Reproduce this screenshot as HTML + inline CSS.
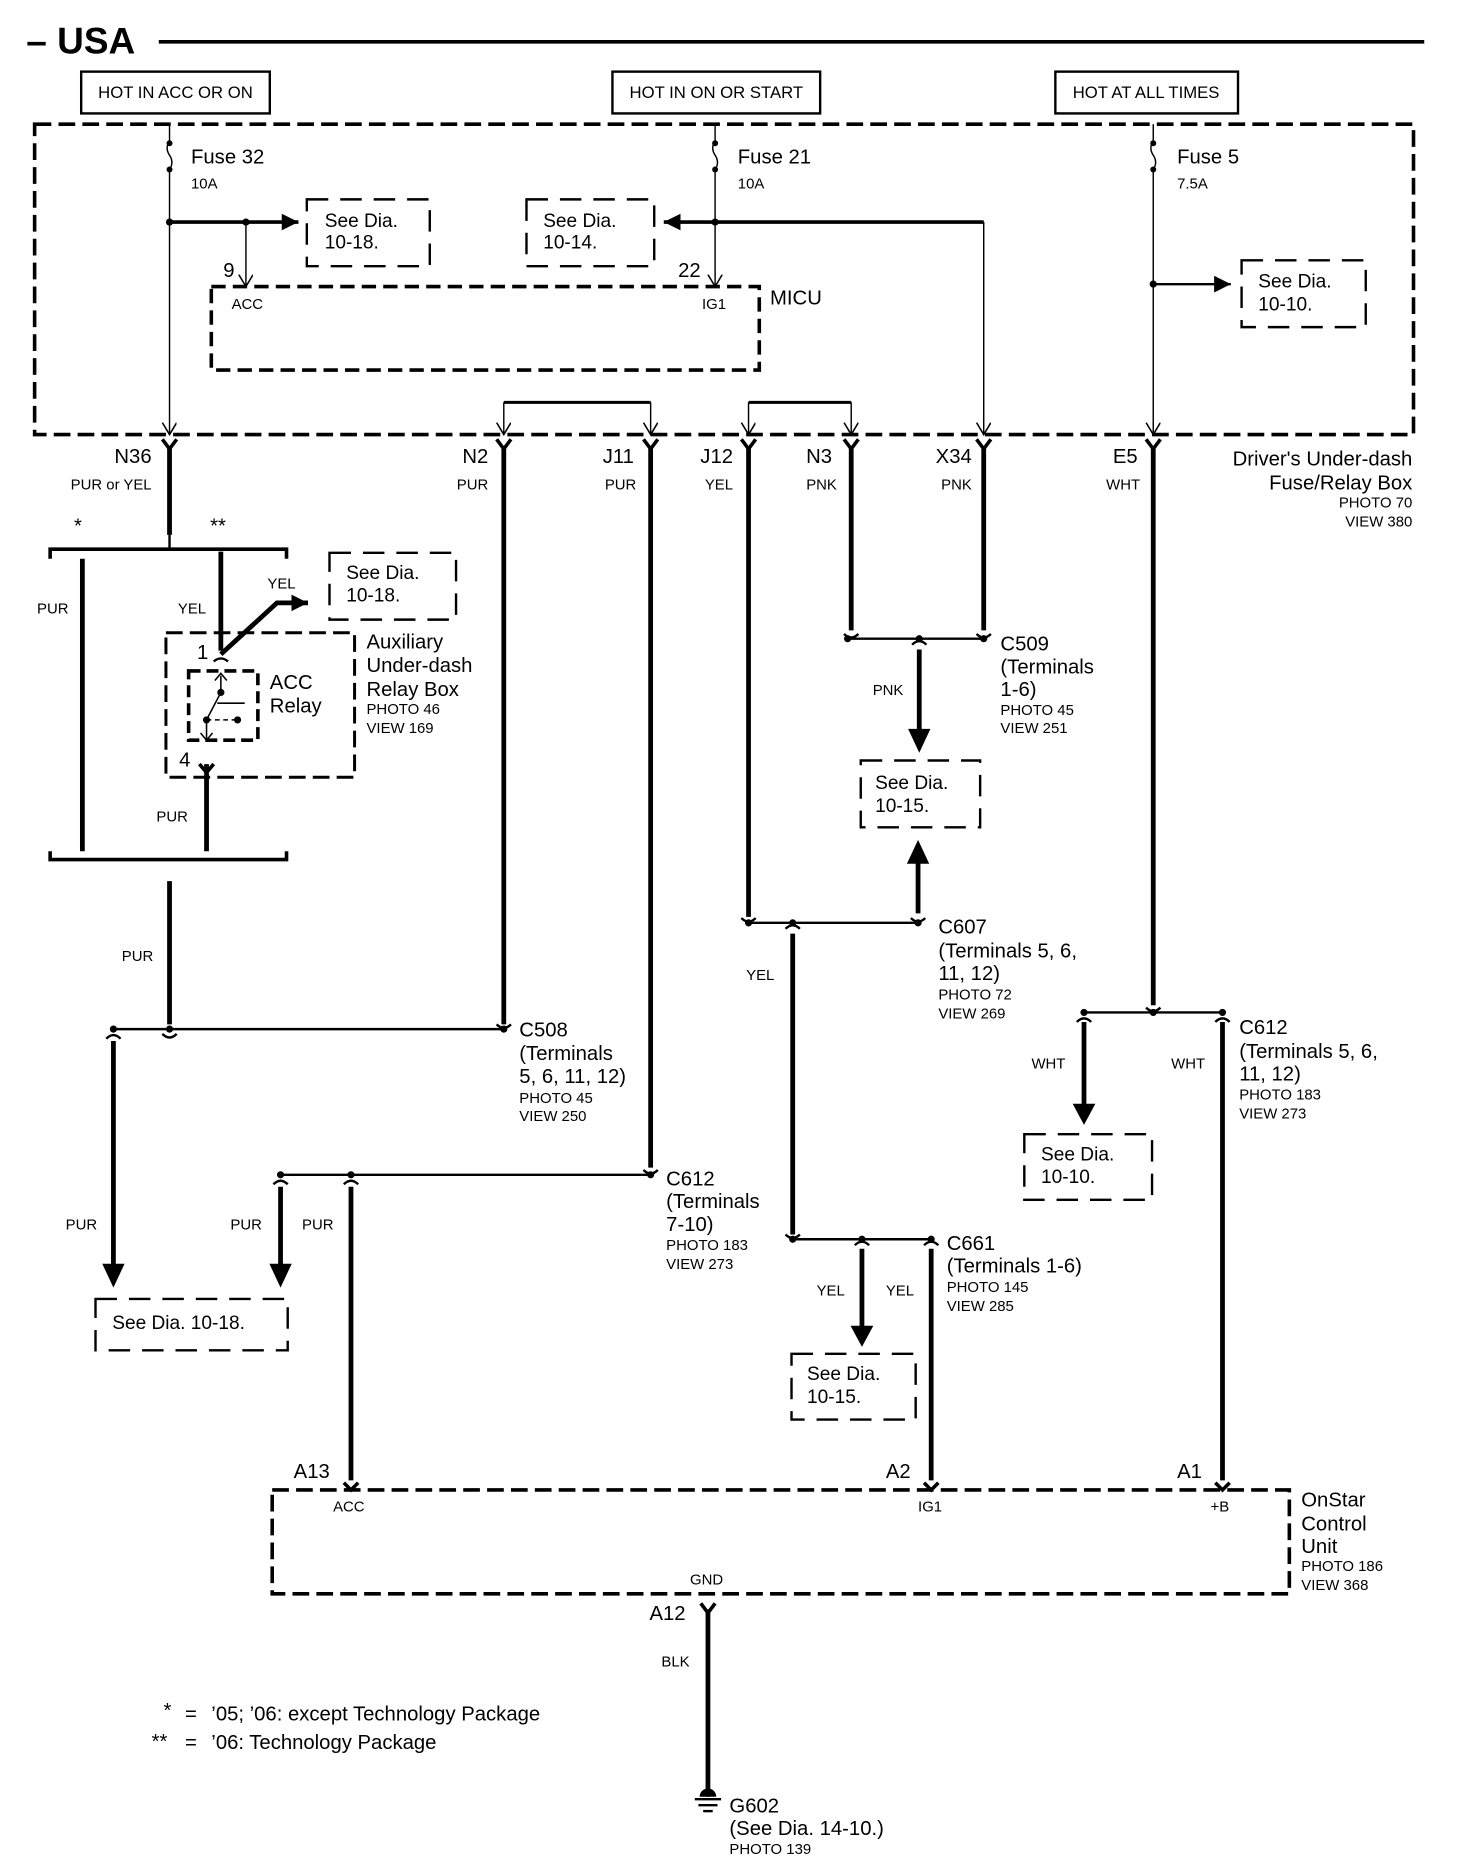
<!DOCTYPE html>
<html><head><meta charset="utf-8"><style>
html,body{margin:0;padding:0;background:#fff}
svg{display:block}
text{font-family:"Liberation Sans",sans-serif;fill:#000}
.L{font-size:17px}.S{font-size:12.5px}.M{font-size:16px}
</style></head><body>
<svg width="1472" height="1872" viewBox="0 0 1233 1568" preserveAspectRatio="none" xmlns="http://www.w3.org/2000/svg">
<defs>
<marker id="ta" markerUnits="userSpaceOnUse" markerWidth="14" markerHeight="14" refX="10" refY="6" orient="auto"><path d="M0,0 L10,6 L0,12" fill="none" stroke="#000" stroke-width="1.3"/></marker>
<marker id="fa" markerUnits="userSpaceOnUse" markerWidth="18" markerHeight="16" refX="14" refY="7" orient="auto"><path d="M0,0 L14,7 L0,14 Z" fill="#000"/></marker>
</defs>
<g fill="none" stroke="#000">
<line x1="133" y1="35" x2="1193" y2="35" stroke-width="3"/>
<rect x="68" y="60" width="158" height="35" stroke-width="2"/>
<rect x="513" y="60" width="174" height="35" stroke-width="2"/>
<rect x="884" y="60" width="153" height="35" stroke-width="2"/>
<rect x="29" y="104" width="1155" height="260" stroke-width="3" stroke-dasharray="14,6"/>
<g stroke-width="1.2">
<line x1="142" y1="104" x2="142" y2="118"/><path d="M142,118 q-4,6 0,12 q4,6 0,12"/><line x1="142" y1="142" x2="142" y2="364" marker-end="url(#ta)"/>
<line x1="599" y1="104" x2="599" y2="118"/><path d="M599,118 q-4,6 0,12 q4,6 0,12"/><line x1="599" y1="142" x2="599" y2="240" marker-end="url(#ta)"/>
<line x1="966" y1="104" x2="966" y2="118"/><path d="M966,118 q-4,6 0,12 q4,6 0,12"/><line x1="966" y1="142" x2="966" y2="364" marker-end="url(#ta)"/>
<line x1="206" y1="186" x2="206" y2="240" marker-end="url(#ta)"/>
<line x1="824" y1="186" x2="824" y2="364" marker-end="url(#ta)"/>
<line x1="422" y1="337" x2="422" y2="364" marker-end="url(#ta)"/>
<line x1="545" y1="337" x2="545" y2="364" marker-end="url(#ta)"/>
<line x1="627" y1="337" x2="627" y2="364" marker-end="url(#ta)"/>
<line x1="713" y1="337" x2="713" y2="364" marker-end="url(#ta)"/>
</g>
<line x1="422" y1="337" x2="545" y2="337" stroke-width="2.5"/>
<line x1="627" y1="337" x2="713" y2="337" stroke-width="2.5"/>
<line x1="142" y1="186" x2="250" y2="186" stroke-width="3" marker-end="url(#fa)"/>
<line x1="824" y1="186" x2="556" y2="186" stroke-width="3" marker-end="url(#fa)"/>
<line x1="966" y1="238" x2="1031" y2="238" stroke-width="2" marker-end="url(#fa)"/>
<g stroke-width="2" stroke-dasharray="18,10">
<rect x="257" y="167" width="103" height="56"/>
<rect x="441" y="167" width="107" height="56"/>
<rect x="1040" y="218" width="104" height="56"/>
<rect x="276" y="463" width="106" height="56"/>
<rect x="721" y="637" width="100" height="56"/>
<rect x="80" y="1088" width="161" height="43"/>
<rect x="858" y="950" width="107" height="55"/>
<rect x="663" y="1134" width="104" height="55"/>
</g>
<rect x="177" y="240" width="459" height="70" stroke-width="3" stroke-dasharray="12,6"/>
<g stroke-width="3">
<path d="M136,368 L142,376 L148,368"/><path d="M416,368 L422,376 L428,368"/><path d="M539,368 L545,376 L551,368"/><path d="M621,368 L627,376 L633,368"/><path d="M707,368 L713,376 L719,368"/><path d="M818,368 L824,376 L830,368"/><path d="M960,368 L966,376 L972,368"/>
</g>
<g stroke-width="4">
<line x1="142" y1="374" x2="142" y2="448"/>
<line x1="422" y1="374" x2="422" y2="858"/>
<line x1="545" y1="374" x2="545" y2="978"/>
<line x1="627" y1="374" x2="627" y2="768"/>
<line x1="713" y1="374" x2="713" y2="528"/>
<line x1="824" y1="374" x2="824" y2="528"/>
<line x1="966" y1="374" x2="966" y2="842"/>
<line x1="69" y1="468" x2="69" y2="713"/>
<line x1="185" y1="462" x2="185" y2="545"/>
<line x1="173" y1="640" x2="173" y2="713"/>
<line x1="142" y1="738" x2="142" y2="858"/>
<line x1="95" y1="872" x2="95" y2="1062"/>
<line x1="235" y1="994" x2="235" y2="1060"/>
<line x1="294" y1="994" x2="294" y2="1240"/>
<line x1="770" y1="544" x2="770" y2="612"/>
<line x1="769" y1="765" x2="769" y2="722"/>
<line x1="664" y1="782" x2="664" y2="1034"/>
<line x1="722" y1="1046" x2="722" y2="1112"/>
<line x1="780" y1="1046" x2="780" y2="1240"/>
<line x1="908" y1="856" x2="908" y2="926"/>
<line x1="1024" y1="856" x2="1024" y2="1240"/>
<line x1="593" y1="1348" x2="593" y2="1505"/>
</g>
<g stroke-width="3" fill="#000">
<path d="M88,1060 L95,1075 L102,1060 Z"/><path d="M228,1060 L235,1075 L242,1060 Z"/>
<path d="M763,612 L770,627 L777,612 Z"/><path d="M762,722 L769,707 L776,722 Z"/>
<path d="M715,1112 L722,1125 L729,1112 Z"/><path d="M901,926 L908,939 L915,926 Z"/>
</g>
<path d="M185,548 L232,505 L258,505" stroke-width="4" marker-end="url(#fa)"/>
<path d="M42,468 L42,460 L240,460 L240,468" stroke-width="3"/>
<path d="M42,713 L42,720 L240,720 L240,713" stroke-width="3"/>
<line x1="142" y1="448" x2="142" y2="460" stroke-width="2"/>
<rect x="139" y="530" width="158" height="121" stroke-width="2.5" stroke-dasharray="14,6"/>
<rect x="158" y="562" width="58" height="58" stroke-width="3" stroke-dasharray="10,5"/>
<path d="M179,554 q6,-5 12,0" stroke-width="2"/>
<path d="M167,640 L173,647 L179,640" stroke-width="3"/>
<g stroke-width="1.3"><line x1="185" y1="566" x2="185" y2="580"/><path d="M180,570 L185,564 L190,570"/><line x1="185" y1="580" x2="173" y2="603"/><line x1="173" y1="603" x2="173" y2="620"/><path d="M168,614 L173,620 L178,614"/><line x1="182" y1="589" x2="205" y2="589"/><line x1="173" y1="603" x2="199" y2="603" stroke-dasharray="4,3"/></g>
<g fill="#000" stroke="none"><circle cx="185" cy="580" r="3"/><circle cx="173" cy="603" r="3"/><circle cx="199" cy="603" r="3"/></g>
<g stroke-width="2">
<line x1="95" y1="862" x2="422" y2="862"/>
<line x1="235" y1="984" x2="545" y2="984"/>
<line x1="710" y1="535" x2="824" y2="535"/>
<line x1="627" y1="773" x2="769" y2="773"/>
<line x1="664" y1="1038" x2="780" y2="1038"/>
<line x1="908" y1="848" x2="1024" y2="848"/>
</g>
<g stroke-width="2">
<path d="M89,870 q6,-6 12,0"/><path d="M136,866 q6,6 12,0"/><path d="M416,858 q6,6 12,0"/>
<path d="M229,992 q6,-6 12,0"/><path d="M288,992 q6,-6 12,0"/><path d="M539,980 q6,6 12,0"/>
<path d="M707,531 q6,6 12,0"/><path d="M818,531 q6,6 12,0"/><path d="M764,540 q6,-6 12,0"/>
<path d="M621,769 q6,6 12,0"/><path d="M658,778 q6,-6 12,0"/><path d="M763,769 q6,6 12,0"/>
<path d="M658,1034 q6,6 12,0"/><path d="M716,1043 q6,-6 12,0"/><path d="M774,1043 q6,-6 12,0"/>
<path d="M902,856 q6,-6 12,0"/><path d="M960,844 q6,6 12,0"/><path d="M1018,856 q6,-6 12,0"/>
<path d="M288,1242 L294,1248 L300,1242" stroke-width="3"/><path d="M774,1242 L780,1248 L786,1242" stroke-width="3"/><path d="M1018,1242 L1024,1248 L1030,1242" stroke-width="3"/>
<path d="M587,1343 L593,1351 L599,1343" stroke-width="3"/>
</g>
<g fill="#000" stroke="none">
<circle cx="142" cy="186" r="3"/><circle cx="206" cy="186" r="3"/><circle cx="599" cy="186" r="3"/><circle cx="966" cy="238" r="3"/>
<circle cx="95" cy="862" r="3"/><circle cx="142" cy="862" r="3"/><circle cx="422" cy="862" r="3"/>
<circle cx="235" cy="984" r="3"/><circle cx="294" cy="984" r="3"/><circle cx="545" cy="984" r="3"/>
<circle cx="710" cy="535" r="3"/><circle cx="770" cy="535" r="3"/><circle cx="824" cy="535" r="3"/>
<circle cx="627" cy="773" r="3"/><circle cx="664" cy="773" r="3"/><circle cx="769" cy="773" r="3"/>
<circle cx="664" cy="1038" r="3"/><circle cx="722" cy="1038" r="3"/><circle cx="780" cy="1038" r="3"/>
<circle cx="908" cy="848" r="3"/><circle cx="966" cy="848" r="3"/><circle cx="1024" cy="848" r="3"/>
<circle cx="142" cy="120" r="2.5"/><circle cx="142" cy="142" r="2.5"/><circle cx="599" cy="120" r="2.5"/><circle cx="599" cy="142" r="2.5"/><circle cx="966" cy="120" r="2.5"/><circle cx="966" cy="142" r="2.5"/>
</g>
<rect x="228" y="1248" width="852" height="87" stroke-width="3" stroke-dasharray="14,6"/>
<g stroke-width="2"><line x1="582" y1="1507" x2="604" y2="1507"/><line x1="585" y1="1512" x2="601" y2="1512"/><line x1="589" y1="1517" x2="597" y2="1517"/></g>
<path d="M586,1505 a7,7 0 0 1 14,0 Z" fill="#000" stroke="none"/>
</g>

<text x="22" y="45" style="font-size:31px;font-weight:bold">– USA</text>
<g class="S" text-anchor="middle">
<text x="147" y="82" style="font-size:14px">HOT IN ACC OR ON</text>
<text x="600" y="82" style="font-size:14px">HOT IN ON OR START</text>
<text x="960" y="82" style="font-size:14px">HOT AT ALL TIMES</text>
</g>
<text class="L" x="160" y="137">Fuse 32</text><text class="S" x="160" y="158">10A</text>
<text class="L" x="618" y="137">Fuse 21</text><text class="S" x="618" y="158">10A</text>
<text class="L" x="986" y="137">Fuse 5</text><text class="S" x="986" y="158">7.5A</text>
<text class="M" x="272" y="190">See Dia.</text><text class="M" x="272" y="208">10-18.</text>
<text class="M" x="455" y="190">See Dia.</text><text class="M" x="455" y="208">10-14.</text>
<text class="M" x="1054" y="241">See Dia.</text><text class="M" x="1054" y="260">10-10.</text>
<text class="L" x="187" y="232">9</text><text class="L" x="568" y="232">22</text>
<text class="S" x="194" y="259">ACC</text><text class="S" x="588" y="259">IG1</text>
<text class="L" x="645" y="255">MICU</text>
<g class="L" text-anchor="end">
<text x="127" y="388">N36</text><text x="409" y="388">N2</text><text x="531" y="388">J11</text><text x="614" y="388">J12</text><text x="697" y="388">N3</text><text x="814" y="388">X34</text><text x="953" y="388">E5</text>
<text x="1183" y="390">Driver's Under-dash</text><text x="1183" y="410">Fuse/Relay Box</text>
</g>
<g class="S" text-anchor="end">
<text x="127" y="410">PUR or YEL</text><text x="409" y="410">PUR</text><text x="533" y="410">PUR</text><text x="614" y="410">YEL</text><text x="701" y="410">PNK</text><text x="814" y="410">PNK</text><text x="955" y="410">WHT</text>
<text x="1183" y="425">PHOTO 70</text><text x="1183" y="441">VIEW 380</text>
</g>
<text class="L" x="62" y="446">*</text><text class="L" x="176" y="446">**</text>
<g class="S">
<text x="31" y="514">PUR</text><text x="149" y="514">YEL</text><text x="224" y="493">YEL</text><text x="131" y="688">PUR</text><text x="102" y="805">PUR</text>
<text x="731" y="582">PNK</text><text x="625" y="821">YEL</text><text x="55" y="1030">PUR</text><text x="193" y="1030">PUR</text><text x="253" y="1030">PUR</text>
<text x="864" y="895">WHT</text><text x="981" y="895">WHT</text><text x="684" y="1085">YEL</text><text x="742" y="1085">YEL</text>
<text x="554" y="1396">BLK</text><text x="279" y="1266">ACC</text><text x="769" y="1266">IG1</text><text x="1014" y="1266">+B</text><text x="578" y="1327">GND</text>
</g>
<text class="M" x="290" y="485">See Dia.</text><text class="M" x="290" y="504">10-18.</text>
<text class="L" x="165" y="552">1</text><text class="L" x="150" y="642">4</text>
<text class="L" x="226" y="577">ACC</text><text class="L" x="226" y="597">Relay</text>
<text class="L" x="307" y="543">Auxiliary</text><text class="L" x="307" y="563">Under-dash</text><text class="L" x="307" y="583">Relay Box</text>
<text class="S" x="307" y="598">PHOTO 46</text><text class="S" x="307" y="614">VIEW 169</text>
<text class="L" x="838" y="545">C509</text><text class="L" x="838" y="564">(Terminals</text><text class="L" x="838" y="583">1-6)</text><text class="S" x="838" y="599">PHOTO 45</text><text class="S" x="838" y="614">VIEW 251</text>
<text class="M" x="733" y="661">See Dia.</text><text class="M" x="733" y="680">10-15.</text>
<text class="L" x="786" y="782">C607</text><text class="L" x="786" y="802">(Terminals 5, 6,</text><text class="L" x="786" y="821">11, 12)</text><text class="S" x="786" y="837">PHOTO 72</text><text class="S" x="786" y="853">VIEW 269</text>
<text class="L" x="435" y="868">C508</text><text class="L" x="435" y="888">(Terminals</text><text class="L" x="435" y="907">5, 6, 11, 12)</text><text class="S" x="435" y="924">PHOTO 45</text><text class="S" x="435" y="939">VIEW 250</text>
<text class="L" x="1038" y="866">C612</text><text class="L" x="1038" y="886">(Terminals 5, 6,</text><text class="L" x="1038" y="905">11, 12)</text><text class="S" x="1038" y="921">PHOTO 183</text><text class="S" x="1038" y="937">VIEW 273</text>
<text class="M" x="872" y="972">See Dia.</text><text class="M" x="872" y="991">10-10.</text>
<text class="L" x="558" y="993">C612</text><text class="L" x="558" y="1012">(Terminals</text><text class="L" x="558" y="1031">7-10)</text><text class="S" x="558" y="1047">PHOTO 183</text><text class="S" x="558" y="1063">VIEW 273</text>
<text class="L" x="793" y="1047">C661</text><text class="L" x="793" y="1066">(Terminals 1-6)</text><text class="S" x="793" y="1082">PHOTO 145</text><text class="S" x="793" y="1098">VIEW 285</text>
<text class="M" x="94" y="1113">See Dia. 10-18.</text>
<text class="M" x="676" y="1156">See Dia.</text><text class="M" x="676" y="1175">10-15.</text>
<text class="L" x="246" y="1238">A13</text><text class="L" x="742" y="1238">A2</text><text class="L" x="986" y="1238">A1</text>
<text class="L" x="1090" y="1262">OnStar</text><text class="L" x="1090" y="1282">Control</text><text class="L" x="1090" y="1301">Unit</text><text class="S" x="1090" y="1316">PHOTO 186</text><text class="S" x="1090" y="1332">VIEW 368</text>
<text class="L" x="544" y="1357">A12</text>
<text class="L" x="611" y="1518">G602</text><text class="L" x="611" y="1537">(See Dia. 14-10.)</text><text class="S" x="611" y="1553">PHOTO 139</text>
<text class="L" x="137" y="1438">*</text><text class="L" x="155" y="1441">=</text><text class="L" x="177" y="1441">’05; ’06: except Technology Package</text>
<text class="L" x="127" y="1464">**</text><text class="L" x="155" y="1465">=</text><text class="L" x="177" y="1465">’06: Technology Package</text>
</svg>
</body></html>
